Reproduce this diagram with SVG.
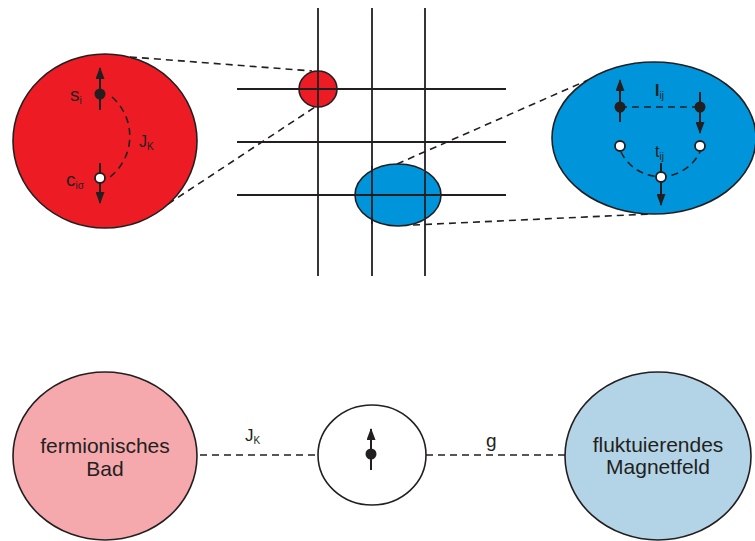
<svg xmlns="http://www.w3.org/2000/svg" width="755" height="541" viewBox="0 0 755 541">
<style>
.ol{stroke:#231F20;stroke-width:1.6}
.grid{stroke:#231F20;stroke-width:1.8;fill:none}
.dash{stroke:#231F20;stroke-width:1.6;stroke-dasharray:7 5;fill:none}
.spin{stroke:#231F20;stroke-width:2;fill:none}
.dot{fill:#231F20}
.hole{fill:#fff;stroke:#231F20;stroke-width:1.8}
.t{font-family:"Liberation Sans",Arial,sans-serif;fill:#231F20}
</style>
<defs>
<marker id="ah" viewBox="0 0 12 9" refX="11" refY="4.5" markerWidth="12" markerHeight="9" markerUnits="userSpaceOnUse" orient="auto" preserveAspectRatio="none">
<path d="M0,0 L12,4.5 L0,9 z" fill="#231F20"/>
</marker>
</defs>

<g id="lattice">
<line class="grid" x1="318" y1="8" x2="318" y2="276"/>
<line class="grid" x1="372" y1="8" x2="372" y2="276"/>
<line class="grid" x1="425" y1="8" x2="425" y2="276"/>
<line class="grid" x1="237" y1="89" x2="506" y2="89"/>
<line class="grid" x1="237" y1="142" x2="506" y2="142"/>
<line class="grid" x1="237" y1="195" x2="506" y2="195"/>
</g>

<g id="connectors">
<line class="dash" x1="118" y1="56" x2="312" y2="71"/>
<line class="dash" x1="168" y1="204" x2="315" y2="107"/>
<line class="dash" x1="397" y1="164" x2="588" y2="80"/>
<line class="dash" x1="413" y1="225" x2="650" y2="214"/>
<line class="dash" x1="200" y1="455" x2="318" y2="455"/>
<line class="dash" x1="426" y1="455" x2="565" y2="455"/>
</g>

<g id="site-red">
<ellipse class="ol" cx="318" cy="89" rx="19" ry="18" fill="#ED1C24" fill-opacity="1"/>
<line class="grid" x1="299" y1="89" x2="337" y2="89"/>
<line class="grid" x1="318" y1="71" x2="318" y2="107"/>
</g>

<g id="site-blue">
<ellipse class="ol" cx="398" cy="195" rx="43" ry="31" fill="#0095DA"/>
<line class="grid" x1="355" y1="195" x2="441" y2="195"/>
<line class="grid" x1="372" y1="166" x2="372" y2="224"/>
<line class="grid" x1="425" y1="172" x2="425" y2="218"/>
</g>

<g id="zoom-red">
<ellipse class="ol" cx="105" cy="141" rx="92" ry="87" fill="#ED1C24"/>
<path class="dash" d="M112,97 A52,52 0 0 1 110,177"/>
<line class="spin" x1="100" y1="110" x2="100" y2="68" marker-end="url(#ah)"/>
<circle class="dot" cx="100" cy="94" r="5.5"/>
<line class="spin" x1="100" y1="163" x2="100" y2="203" marker-end="url(#ah)"/>
<circle class="hole" cx="100" cy="178" r="5"/>
<text class="t" x="70" y="101" font-size="19">s<tspan font-size="10" dy="3">i</tspan></text>
<text class="t" x="66" y="186" font-size="19">c<tspan font-size="10" dy="3">iσ</tspan></text>
<text class="t" x="139" y="147" font-size="16">J<tspan font-size="10" dy="3">K</tspan></text>
</g>

<g id="zoom-blue">
<ellipse class="ol" cx="654" cy="138" rx="102" ry="76" fill="#0095DA"/>
<line class="dash" x1="620" y1="107" x2="700" y2="107"/>
<path class="dash" d="M621,152 A44,44 0 0 0 700,152"/>
<line class="spin" x1="620" y1="122" x2="620" y2="80" marker-end="url(#ah)"/>
<circle class="dot" cx="620" cy="107" r="5.5"/>
<line class="spin" x1="700" y1="92" x2="700" y2="133" marker-end="url(#ah)"/>
<circle class="dot" cx="700" cy="107" r="5.5"/>
<line class="spin" x1="661" y1="163" x2="661" y2="205" marker-end="url(#ah)"/>
<circle class="hole" cx="620" cy="146" r="5"/>
<circle class="hole" cx="700" cy="146" r="5"/>
<circle class="hole" cx="661" cy="177" r="5"/>
<text class="t" x="655" y="96" font-size="16" font-weight="bold">I<tspan font-size="10" font-weight="normal" dy="3">ij</tspan></text>
<text class="t" x="655" y="157" font-size="16">t<tspan font-size="10" dy="3">ij</tspan></text>
</g>

<g id="bath">
<ellipse class="ol" cx="105" cy="456" rx="92" ry="84" fill="#F5A9AD"/>
<text class="t" x="105" y="453" font-size="21" text-anchor="middle">fermionisches</text>
<text class="t" x="105" y="476" font-size="21" text-anchor="middle">Bad</text>
</g>

<g id="impurity">
<ellipse class="ol" cx="372" cy="455" rx="54" ry="50" fill="#fff"/>
<line class="spin" x1="371" y1="470" x2="371" y2="429" marker-end="url(#ah)"/>
<circle class="dot" cx="371" cy="454" r="5.5"/>
</g>

<g id="field">
<ellipse class="ol" cx="658" cy="456" rx="93" ry="84" fill="#B3D4E6"/>
<text class="t" x="658" y="452" font-size="21" text-anchor="middle">fluktuierendes</text>
<text class="t" x="658" y="474" font-size="21" text-anchor="middle">Magnetfeld</text>
</g>

<g id="labels">
<text class="t" x="245" y="441" font-size="17">J<tspan font-size="10" dy="3">K</tspan></text>
<text class="t" x="486" y="447" font-size="19">g</text>
</g>
</svg>
